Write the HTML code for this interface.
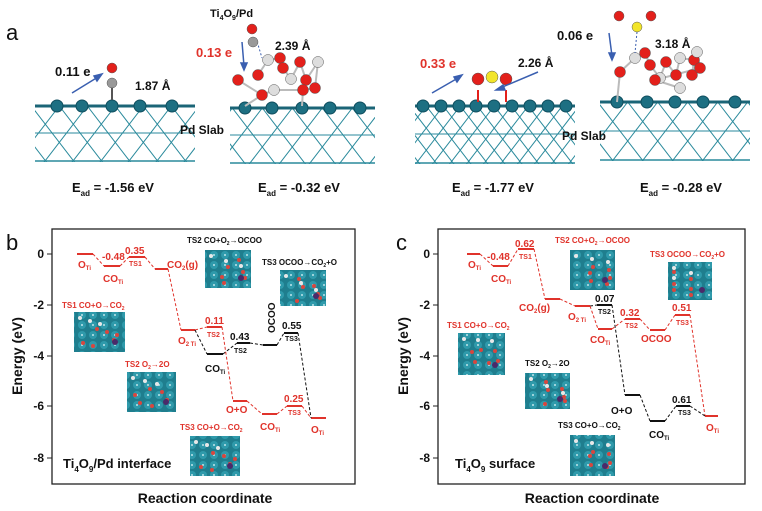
<!DOCTYPE html>
<html><head><meta charset="utf-8"><style>
html,body{margin:0;padding:0;background:#fff}
svg{display:block}
text{font-family:"Liberation Sans",Arial,sans-serif;font-weight:bold}
.r{fill:#e0332b}.k{fill:#111}
</style></head><body>
<svg id="s" width="762" height="511" viewBox="0 0 762 511" xmlns="http://www.w3.org/2000/svg">
<defs id="defs">
<pattern id="mol" width="11" height="10" patternUnits="userSpaceOnUse">
<rect width="11" height="10" fill="#1f7e8e"/>
<circle cx="5" cy="5" r="4" fill="#2f9aab"/>
<circle cx="5" cy="5" r="1" fill="#bfe4ea"/>
</pattern>
</defs>
<g id="lat"></g>
<g id="atoms"></g>

<text x="6" y="40" font-size="22" style="font-weight:normal" class="k">a</text>
<text x="55" y="76" font-size="13" class="k">0.11 e</text>
<text x="135" y="90" font-size="12" class="k">1.87 Å</text>
<text x="210" y="17" font-size="11" class="k">Ti<tspan font-size="7" dy="3">4</tspan><tspan dy="-3">O</tspan><tspan font-size="7" dy="3">9</tspan><tspan dy="-3">/Pd</tspan></text>
<text x="196" y="57" font-size="13" class="r">0.13 e</text>
<text x="275" y="50" font-size="12" class="k">2.39 Å</text>
<text x="180" y="134" font-size="12" class="k">Pd Slab</text>
<text x="72" y="192" font-size="13" class="k">E<tspan font-size="8" dy="4">ad</tspan><tspan dy="-4"> = -1.56 eV</tspan></text>
<text x="258" y="192" font-size="13" class="k">E<tspan font-size="8" dy="4">ad</tspan><tspan dy="-4"> = -0.32 eV</tspan></text>
<text x="420" y="68" font-size="13" class="r">0.33 e</text>
<text x="518" y="67" font-size="12" class="k">2.26 Å</text>
<text x="557" y="40" font-size="13" class="k">0.06 e</text>
<text x="655" y="48" font-size="12" class="k">3.18 Å</text>
<text x="562" y="140" font-size="12" class="k">Pd Slab</text>
<text x="452" y="192" font-size="13" class="k">E<tspan font-size="8" dy="4">ad</tspan><tspan dy="-4"> = -1.77 eV</tspan></text>
<text x="640" y="192" font-size="13" class="k">E<tspan font-size="8" dy="4">ad</tspan><tspan dy="-4"> = -0.28 eV</tspan></text>
<g stroke="#3a5fb0" stroke-width="1.5" fill="#3a5fb0">
<line x1="72" y1="93" x2="98" y2="77"/><polygon points="102,74 94,76 97,81"/>
<line x1="242" y1="42" x2="244" y2="66"/><polygon points="244,70 241,63 247,63"/>
<line x1="432" y1="93" x2="458" y2="78"/><polygon points="462,75 454,77 457,82"/>
<line x1="538" y1="72" x2="500" y2="88"/><polygon points="496,90 503,85 505,90"/>
<line x1="609" y1="33" x2="612" y2="56"/><polygon points="612,60 609,53 615,53"/>
</g>

<rect x="52" y="229" width="303" height="255" fill="none" stroke="#222" stroke-width="1.3"/>
<rect x="438" y="229" width="307" height="255" fill="none" stroke="#222" stroke-width="1.3"/>
<text x="6" y="250" font-size="22" style="font-weight:normal" class="k">b</text>
<text x="396" y="250" font-size="22" style="font-weight:normal" class="k">c</text>
<g font-size="12" class="k" text-anchor="end">
<text x="44" y="258">0</text><text x="44" y="309">-2</text><text x="44" y="360">-4</text><text x="44" y="410">-6</text><text x="44" y="462">-8</text>
<text x="430" y="258">0</text><text x="430" y="309">-2</text><text x="430" y="360">-4</text><text x="430" y="410">-6</text><text x="430" y="462">-8</text>
</g>
<g stroke="#222" stroke-width="1">
<line x1="47" y1="254" x2="52" y2="254"/><line x1="47" y1="305" x2="52" y2="305"/><line x1="47" y1="356" x2="52" y2="356"/><line x1="47" y1="406" x2="52" y2="406"/><line x1="47" y1="458" x2="52" y2="458"/>
<line x1="433" y1="254" x2="438" y2="254"/><line x1="433" y1="305" x2="438" y2="305"/><line x1="433" y1="356" x2="438" y2="356"/><line x1="433" y1="406" x2="438" y2="406"/><line x1="433" y1="458" x2="438" y2="458"/>
</g>
<text transform="translate(22,356) rotate(-90)" font-size="14" text-anchor="middle" class="k">Energy (eV)</text>
<text transform="translate(408,356) rotate(-90)" font-size="14" text-anchor="middle" class="k">Energy (eV)</text>
<text x="205" y="503" font-size="14" text-anchor="middle" class="k">Reaction coordinate</text>
<text x="592" y="503" font-size="14" text-anchor="middle" class="k">Reaction coordinate</text>

<g fill="url(#mol)">
<rect x="205" y="250" width="46" height="38"/><rect x="280" y="270" width="46" height="36"/>
<rect x="74" y="312" width="51" height="40"/><rect x="127" y="372" width="49" height="40"/>
<rect x="190" y="436" width="50" height="40"/>
<rect x="570" y="250" width="45" height="40"/><rect x="668" y="262" width="44" height="38"/>
<rect x="458" y="333" width="47" height="42"/><rect x="525" y="373" width="45" height="36"/>
<rect x="570" y="435" width="45" height="41"/>
</g>
<g id="dots"></g>

<g font-size="8">
<text x="187" y="243" class="k">TS2 CO+O<tspan font-size="5" dy="2">2</tspan><tspan dy="-2">→OCOO</tspan></text>
<text x="262" y="265" class="k">TS3 OCOO→CO<tspan font-size="5" dy="2">2</tspan><tspan dy="-2">+O</tspan></text>
<text x="62" y="308" class="r">TS1 CO+O→CO<tspan font-size="5" dy="2">2</tspan></text>
<text x="125" y="367" class="r">TS2 O<tspan font-size="5" dy="2">2</tspan><tspan dy="-2">→2O</tspan></text>
<text x="180" y="430" class="r">TS3 CO+O→CO<tspan font-size="5" dy="2">2</tspan></text>
</g>
<text x="63" y="468" font-size="13" class="k">Ti<tspan font-size="8" dy="4">4</tspan><tspan dy="-4">O</tspan><tspan font-size="8" dy="4">9</tspan><tspan dy="-4">/Pd interface</tspan></text>
<g font-size="10">
<text x="78" y="268" class="r">O<tspan font-size="6" dy="2">Ti</tspan></text>
<text x="102" y="260" class="r">-0.48</text>
<text x="103" y="282" class="r">CO<tspan font-size="6" dy="2">Ti</tspan></text>
<text x="125" y="254" class="r">0.35</text>
<text x="129" y="266" font-size="7" class="r">TS1</text>
<text x="167" y="268" class="r">CO<tspan font-size="6" dy="2">2</tspan><tspan dy="-2">(g)</tspan></text>
<text x="178" y="344" class="r">O<tspan font-size="6" dy="2">2 Ti</tspan></text>
<text x="205" y="324" class="r">0.11</text>
<text x="207" y="337" font-size="7" class="r">TS2</text>
<text x="205" y="372" class="k">CO<tspan font-size="6" dy="2">Ti</tspan></text>
<text x="230" y="340" class="k">0.43</text>
<text x="234" y="353" font-size="7" class="k">TS2</text>
<text transform="translate(275,333) rotate(-90)" class="k">OCOO</text>
<text x="282" y="329" class="k">0.55</text>
<text x="285" y="341" font-size="7" class="k">TS3</text>
<text x="226" y="413" class="r">O+O</text>
<text x="260" y="430" class="r">CO<tspan font-size="6" dy="2">Ti</tspan></text>
<text x="284" y="402" class="r">0.25</text>
<text x="288" y="415" font-size="7" class="r">TS3</text>
<text x="311" y="433" class="r">O<tspan font-size="6" dy="2">Ti</tspan></text>
</g>

<g font-size="8">
<text x="555" y="243" class="r">TS2 CO+O<tspan font-size="5" dy="2">2</tspan><tspan dy="-2">→OCOO</tspan></text>
<text x="650" y="257" class="r">TS3 OCOO→CO<tspan font-size="5" dy="2">2</tspan><tspan dy="-2">+O</tspan></text>
<text x="447" y="328" class="r">TS1 CO+O→CO<tspan font-size="5" dy="2">2</tspan></text>
<text x="525" y="366" class="k">TS2 O<tspan font-size="5" dy="2">2</tspan><tspan dy="-2">→2O</tspan></text>
<text x="558" y="428" class="k">TS3 CO+O→CO<tspan font-size="5" dy="2">2</tspan></text>
</g>
<text x="455" y="468" font-size="13" class="k">Ti<tspan font-size="8" dy="4">4</tspan><tspan dy="-4">O</tspan><tspan font-size="8" dy="4">9</tspan><tspan dy="-4"> surface</tspan></text>
<g font-size="10">
<text x="468" y="268" class="r">O<tspan font-size="6" dy="2">Ti</tspan></text>
<text x="487" y="260" class="r">-0.48</text>
<text x="491" y="282" class="r">CO<tspan font-size="6" dy="2">Ti</tspan></text>
<text x="515" y="247" class="r">0.62</text>
<text x="519" y="259" font-size="7" class="r">TS1</text>
<text x="519" y="311" class="r">CO<tspan font-size="6" dy="2">2</tspan><tspan dy="-2">(g)</tspan></text>
<text x="568" y="320" class="r">O<tspan font-size="6" dy="2">2 Ti</tspan></text>
<text x="595" y="302" class="k">0.07</text>
<text x="598" y="314" font-size="7" class="k">TS2</text>
<text x="590" y="343" class="r">CO<tspan font-size="6" dy="2">Ti</tspan></text>
<text x="620" y="316" class="r">0.32</text>
<text x="625" y="328" font-size="7" class="r">TS2</text>
<text x="641" y="342" class="r">OCOO</text>
<text x="672" y="311" class="r">0.51</text>
<text x="676" y="325" font-size="7" class="r">TS3</text>
<text x="611" y="414" class="k">O+O</text>
<text x="649" y="438" class="k">CO<tspan font-size="6" dy="2">Ti</tspan></text>
<text x="672" y="403" class="k">0.61</text>
<text x="678" y="415" font-size="7" class="k">TS3</text>
<text x="706" y="431" class="r">O<tspan font-size="6" dy="2">Ti</tspan></text>
</g>
<g id="lv"></g>
</svg>
<script>
var NS="http://www.w3.org/2000/svg";
function mk(parent,t,a){var e=document.createElementNS(NS,t);for(var k in a)e.setAttribute(k,a[k]);parent.appendChild(e);return e;}
function el(p,t,a){return mk(document.getElementById(p),t,a);}
function lnE(g,x1,y1,x2,y2,c,w,d){var a={x1:x1,y1:y1,x2:x2,y2:y2,stroke:c,"stroke-width":w||1};if(d)a["stroke-dasharray"]=d;mk(g,"line",a);}
function ln(p,x1,y1,x2,y2,c,w,d){lnE(document.getElementById(p),x1,y1,x2,y2,c,w,d);}
var T="#2a8a9c",TD="#1b6577",cid=0;
function slab(x0,x1,top,step,h1,h2,atoms){
 var id="c"+(cid++);
 var cp=mk(document.getElementById("defs"),"clipPath",{id:id});
 mk(cp,"rect",{x:x0,y:top,width:x1-x0,height:h2-top+1});
 var g=mk(document.getElementById("lat"),"g",{"clip-path":"url(#"+id+")"});
 var H=h2-top+2, dx=H/1.3;
 for(var x=x0-2*dx;x<x1+2*dx;x+=step){
  lnE(g,x,top,x+dx,top+H,T,1);
  lnE(g,x,top,x-dx,top+H,T,1);
 }
 lnE(g,x0,h1,x1,h1,T,1);lnE(g,x0,h2,x1,h2,T,1.5);
 ln("lat",x0,top,x1,top,TD,3);
 atoms.forEach(function(a){el("atoms","circle",{cx:a,cy:top,r:6,fill:"#1d6f82",stroke:"#0f4e5e","stroke-width":1});});
}
slab(35,195,106,28,133,161,[57,82,112,140,172]);
slab(230,375,108,30,135,163,[245,272,302,330,360]);
slab(415,575,106,17,134,163,[423,441,459,476,494,512,530,548,566]);
slab(600,750,102,30,131,160,[617,647,675,703,735]);
function at(x,y,c,r){el("atoms","circle",{cx:x,cy:y,r:r||5,fill:c,stroke:"#555","stroke-width":0.5});}
var R="#e3201b",G="#999",W="#ddd",Y="#f2e52a";
ln("atoms",112,100,112,86,"#555",2);at(112,83,G);at(112,68,R);
var c1=[[258,75],[268,60],[280,58],[283,68],[291,79],[300,62],[306,80],[318,62],[315,88],[303,90],[274,90],[262,95],[238,80]];
for(var i=1;i<c1.length;i++)ln("atoms",c1[i-1][0],c1[i-1][1],c1[i][0],c1[i][1],"#bbb",2);
ln("atoms",262,95,245,106,"#bbb",2);ln("atoms",303,90,302,106,"#bbb",2);
c1.forEach(function(p,i){at(p[0],p[1],i%3==1?W:R,5.5);});
ln("atoms",256,38,262,58,"#3a5fb0",1,"2,2");at(253,42,G);at(252,29,R);
ln("atoms",478,90,478,102,R,2);ln("atoms",506,90,506,102,R,2);
at(478,79,R,6);at(492,77,Y,6);at(506,79,R,6);
var c2=[[620,72],[635,58],[645,53],[650,65],[660,78],[666,62],[676,75],[680,58],[694,60],[692,75],[697,52],[700,68],[655,80],[680,88]];
for(var i=1;i<c2.length;i++)ln("atoms",c2[i-1][0],c2[i-1][1],c2[i][0],c2[i][1],"#bbb",2);
ln("atoms",620,72,617,102,"#bbb",2);
c2.forEach(function(p,i){at(p[0],p[1],i%3==1?W:R,5.5);});
ln("atoms",637,32,635,53,"#3a5fb0",1,"2,2");at(619,16,R);at(637,27,Y);at(651,16,R);
[[205,250,46,38],[280,270,46,36],[74,312,51,40],[127,372,49,40],[190,436,50,40],[570,250,45,40],[668,262,44,38],[458,333,47,42],[525,373,45,36],[570,435,45,41]].forEach(function(r){
 for(var i=0;i<9;i++){var x=r[0]+6+((i*17)%(r[2]-10)),y=r[1]+6+((i*11)%(r[3]-10));el("dots","circle",{cx:x,cy:y,r:2,fill:i%3?"#d9463e":"#e8e8e8"});}
 el("dots","circle",{cx:r[0]+r[2]-10,cy:r[1]+r[3]-10,r:3,fill:"#4a2a6a"});
});
var RC="#e0332b",K="#111";
function L(x1,x2,y,c){ln("lv",x1,y,x2,y,c,2);}
function D(x1,y1,x2,y2,c){ln("lv",x1,y1,x2,y2,c,1,"3,2");}
L(77,93,254,RC);L(104,120,266,RC);L(129,145,257,RC);L(155,168,269,RC);L(181,195,330,RC);L(207,222,327,RC);
L(207,223,354,K);L(237,250,343,K);L(263,277,345,K);L(284,298,333,K);
L(233,247,401,RC);L(262,277,414,RC);L(287,302,406,RC);L(311,326,418,RC);
D(93,254,104,266,RC);D(120,266,129,257,RC);D(145,257,155,269,RC);D(168,269,181,330,RC);D(195,330,207,327,RC);
D(195,330,207,354,K);D(223,354,237,343,K);D(250,343,263,345,K);D(277,345,284,333,K);D(298,333,311,418,K);
D(222,327,233,401,RC);D(247,401,262,414,RC);D(277,414,287,406,RC);D(302,406,311,418,RC);
L(467,480,254,RC);L(493,508,266,RC);L(518,534,249,RC);L(545,560,299,RC);L(575,590,306,RC);
L(597,612,305,K);L(598,612,329,RC);L(625,640,319,RC);L(650,665,330,RC);L(675,690,315,RC);L(705,718,416,RC);
L(625,640,395,K);L(650,665,421,K);L(676,690,406,K);
D(480,254,493,266,RC);D(508,266,518,249,RC);D(534,249,545,299,RC);D(560,299,575,306,RC);
D(590,306,597,305,K);D(590,306,598,329,RC);D(612,329,625,319,RC);D(640,319,650,330,RC);D(665,330,675,315,RC);D(690,315,705,416,RC);
D(612,305,625,395,K);D(640,395,650,421,K);D(665,421,676,406,K);D(690,406,705,416,K);
</script>
</body></html>
